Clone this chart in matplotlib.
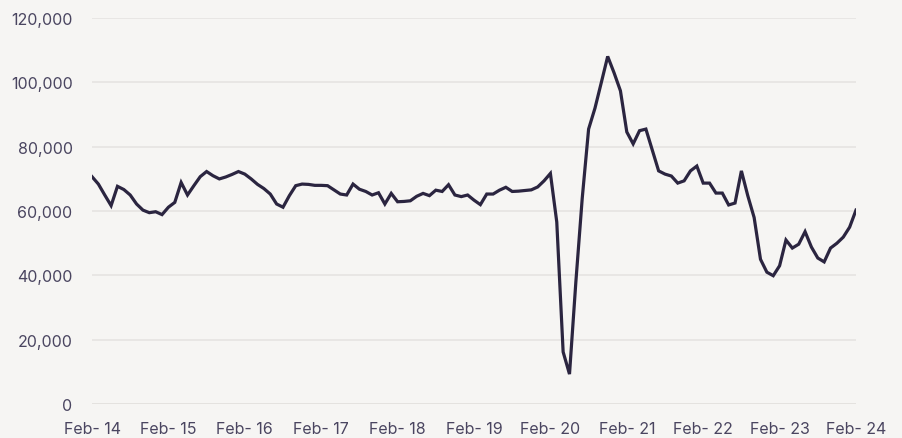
import numpy as np
import matplotlib.pyplot as plt
from matplotlib.ticker import FuncFormatter

# Monthly values, Feb-14 .. Feb-24
values = [
    70700, 68400, 65000, 61700, 67700, 66700, 65000, 62200, 60300, 59500, 59800, 58900,
    61200, 62700, 68900, 65000, 67900, 70700, 72300, 71000, 70000, 70600, 71400, 72300,
    71500, 70000, 68300, 67000, 65300, 62200, 61200, 64800, 67900, 68400, 68300, 68000,
    68000, 67900, 66600, 65300, 65000, 68400, 66800, 66100, 65000, 65700, 62200, 65500,
    62900, 63000, 63200, 64600, 65500, 64800, 66500, 66100, 68200, 65000, 64500, 65000,
    63400, 62000, 65300, 65300, 66500, 67400, 66100, 66200, 66400, 66600, 67500, 69400,
    71700, 56600, 16200, 9300, 38000, 64000, 85500, 92000, 100000, 108100, 103000, 97400,
    84600, 80900, 85000, 85500, 79000, 72500, 71500, 70900, 68700, 69400, 72500, 74000,
    68700, 68700, 65600, 65600, 61900, 62500, 72500, 64800, 58000, 45000, 41000, 39900,
    43000, 51000, 48500, 49700, 53600, 48800, 45400, 44200, 48500, 50000, 51900, 55000,
    60300,
]
tick_labels = ['Feb- 14', 'Feb- 15', 'Feb- 16', 'Feb- 17', 'Feb- 18', 'Feb- 19',
               'Feb- 20', 'Feb- 21', 'Feb- 22', 'Feb- 23', 'Feb- 24']
y_ticks = [0, 20000, 40000, 60000, 80000, 100000, 120000]

bg = '#f6f5f3'
text_col = '#4a4560'

plt.rcParams['font.family'] = ['Inter', 'DejaVu Sans']

fig = plt.figure(figsize=(9.02, 4.39), dpi=100, facecolor=bg)
ax = fig.add_axes([0.102, 0.0774, 0.847, 0.879], facecolor=bg)

x = np.arange(len(values))
ax.plot(x, values, color='#2b2540', lw=2.3, solid_joinstyle='miter', zorder=3)

ax.set_xlim(0, len(values) - 1)
ax.set_ylim(0, 120000)
ax.set_yticks(y_ticks)
ax.yaxis.set_major_formatter(FuncFormatter(lambda v, p: f'{int(v):,}'))
ax.set_xticks(np.arange(0, len(values), 12))
ax.set_xticklabels(tick_labels)

ax.grid(axis='y', color='#e6e4e1', lw=1.2, zorder=0)
ax.axhline(0, color='#d3d1ce', lw=1.8, zorder=1)
for s in ax.spines.values():
    s.set_visible(False)
ax.tick_params(axis='both', length=0, labelsize=11.5, colors=text_col)
ax.tick_params(axis='y', pad=14)
ax.tick_params(axis='x', pad=12)

plt.savefig('out.png', dpi=100, facecolor=bg)
